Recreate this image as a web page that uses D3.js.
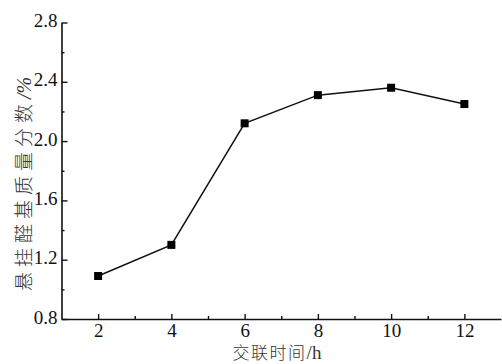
<!DOCTYPE html>
<html>
<head>
<meta charset="utf-8">
<script src="https://cdn.jsdelivr.net/npm/d3@7"></script>
<style>
  html, body { margin: 0; padding: 0; background: #fff; }
  svg { display: block; }
</style>
</head>
<body>
<svg id="chart" width="502" height="364"></svg>
<script>
// Crosslinking time (h) vs. pendant aldehyde content (mass fraction, %)
const hours = [2, 4, 6, 8, 10, 12];
const aldehydeContent = [1.09, 1.30, 2.12, 2.31, 2.36, 2.25];
const xMajorTicks = [2, 4, 6, 8, 10, 12];
const xMinorTicks = [3, 5, 7, 9, 11];
const yMajorTicks = [0.8, 1.2, 1.6, 2.0, 2.4, 2.8];
const yMinorTicks = [1.0, 1.4, 1.8, 2.2, 2.6];
const xTitle = ["交联时间", "/h"];
const yTitle = ["悬挂醛基质量分数", "/%"];

const SERIF = '"Liberation Serif"';
const CJK = '"Noto Sans CJK SC"';

const svg = d3.select("#chart");
const plotLeft = 61.5, plotRight = 501, plotTop = 22.5, plotBottom = 319;

const x = d3.scaleLinear().domain([1, 13]).range([plotLeft, plotRight]);
const y = d3.scaleLinear().domain([0.8, 2.8]).range([plotBottom, plotTop]);

// X axis: ticks point inward (upwards)
const xAxis = svg.append("g").attr("transform", `translate(0,${plotBottom})`);
xAxis.call(d3.axisBottom(x).tickValues(xMajorTicks).tickSize(-5).tickPadding(6).tickSizeOuter(0)
  .tickFormat(d3.format("d")));
xAxis.append("g").call(d3.axisBottom(x).tickValues(xMinorTicks).tickSize(-3).tickFormat("").tickSizeOuter(0))
  .select(".domain").remove();

// Y axis: ticks point inward (to the right)
const yAxis = svg.append("g").attr("transform", `translate(${plotLeft},0)`);
yAxis.call(d3.axisLeft(y).tickValues(yMajorTicks).tickSize(-6).tickPadding(10).tickSizeOuter(0)
  .tickFormat(d3.format(".1f")));
yAxis.append("g").call(d3.axisLeft(y).tickValues(yMinorTicks).tickSize(-3).tickFormat("").tickSizeOuter(0))
  .select(".domain").remove();

svg.selectAll("g").attr("font-family", SERIF).attr("font-size", 19);
svg.selectAll(".domain").attr("stroke", "#111").attr("stroke-width", 1.6);
svg.selectAll(".tick line").attr("stroke", "#111").attr("stroke-width", 1.4);
svg.selectAll(".tick text")
  .attr("font-family", SERIF)
  .attr("font-size", 19)
  .attr("fill", "#111");

// Y tick labels sit just left of the axis, slightly raised
yAxis.selectAll(".tick text").attr("x", -4).attr("dy", "0.22em");
xAxis.selectAll(".tick text").attr("y", 18).attr("dy", 0);

// Data line
const line = d3.line().x((d, i) => x(hours[i])).y(d => y(d));
svg.append("path")
  .datum(aldehydeContent)
  .attr("d", line)
  .attr("fill", "none")
  .attr("stroke", "#111")
  .attr("stroke-width", 1.5);

// Square markers
const ms = 8;
svg.selectAll("rect.marker")
  .data(aldehydeContent)
  .join("rect")
  .attr("class", "marker")
  .attr("x", (d, i) => x(hours[i]) - ms / 2)
  .attr("y", d => y(d) - ms / 2)
  .attr("width", ms)
  .attr("height", ms)
  .attr("fill", "#000");

// Axis titles: CJK part plus a serif unit
const xt = svg.append("text")
  .attr("x", 277)
  .attr("y", 359)
  .attr("text-anchor", "middle")
  .attr("fill", "#333");
xt.append("tspan").attr("font-family", CJK).attr("font-weight", 300).attr("font-size", 17)
  .attr("letter-spacing", 1.5).text(xTitle[0]);
xt.append("tspan").attr("font-family", SERIF).attr("font-size", 19).text(xTitle[1]);

const yt = svg.append("text")
  .attr("transform", "translate(31,184) rotate(-90)")
  .attr("text-anchor", "middle")
  .attr("fill", "#333");
yt.append("tspan").attr("font-family", CJK).attr("font-weight", 300).attr("font-size", 19)
  .attr("letter-spacing", 5).text(yTitle[0]);
yt.append("tspan").attr("font-family", SERIF).attr("font-style", "italic").attr("font-size", 20).text(yTitle[1]);
</script>
</body>
</html>
